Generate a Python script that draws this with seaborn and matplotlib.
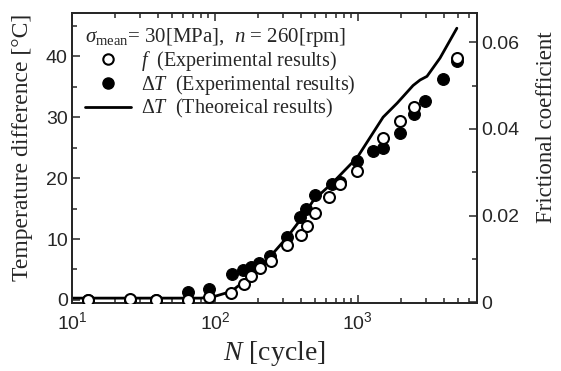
# Temperature difference and friction coefficient vs. number of cycles
import numpy as np
import pandas as pd
import matplotlib.pyplot as plt
import seaborn as sns
from matplotlib.lines import Line2D
from matplotlib.ticker import LogLocator, MultipleLocator, NullFormatter, FixedLocator

# measured temperature difference (filled circles, left axis)
cycles_dt = [13, 25.5, 38.5, 65, 91, 131, 156, 180, 203, 242, 320, 393, 433, 500,
             660, 749, 989, 1280, 1486, 1965, 2478, 2960, 3950, 4900]
dt_exp = [0.0, 0.0, 0.0, 1.3, 1.8, 4.2, 4.9, 5.4, 6.0, 7.2, 10.4, 13.6, 14.9, 17.2,
          19.0, 19.4, 22.8, 24.5, 25.0, 27.4, 30.5, 32.7, 36.3, 39.3]

# measured friction coefficient (open circles, right axis)
cycles_f = [13, 25.5, 38.5, 65, 91, 130, 160, 180, 205, 245, 318, 400, 440, 500,
            630, 750, 990, 1490, 1965, 2480, 4900]
f_exp = [0.0005, 0.0008, 0.0004, 0.0004, 0.0013, 0.0020, 0.0043, 0.0060, 0.0078,
         0.0095, 0.0131, 0.0154, 0.0177, 0.0206, 0.0243, 0.0273, 0.0303, 0.0380,
         0.0418, 0.0450, 0.0565]

# theoretical temperature difference (solid line, left axis)
cycles_th = [10, 50, 80, 100, 130, 155, 180, 205, 245, 320, 400, 490, 670, 990,
             1500, 1880, 2430, 2720, 3040, 3750, 4920]
dt_th = [0.3, 0.3, 0.3, 0.6, 1.4, 2.8, 4.0, 5.3, 7.2, 10.3, 13.3, 16.4, 19.3, 23.4,
         30.0, 32.3, 35.2, 36.1, 36.7, 39.7, 44.6]

sns.set_style("ticks")
plt.rcParams['font.family'] = ['Liberation Sans', 'DejaVu Sans']
plt.rcParams['mathtext.fontset'] = 'custom'
plt.rcParams['mathtext.rm'] = 'Liberation Serif'
plt.rcParams['mathtext.it'] = 'Liberation Serif:italic'
plt.rcParams['mathtext.sf'] = 'Liberation Sans'

df_dt = pd.DataFrame({'N': cycles_dt, 'dT': dt_exp})
df_f = pd.DataFrame({'N': cycles_f, 'f': f_exp})
df_th = pd.DataFrame({'N': cycles_th, 'dT': dt_th})

fig = plt.figure(figsize=(5.61, 3.71), dpi=100)
ax = fig.add_axes([0.1283, 0.1833, 0.7219, 0.7817])
ax.set_xscale('log')
ax2 = ax.twinx()

sns.lineplot(data=df_th, x='N', y='dT', ax=ax, color='black', linewidth=2.0, zorder=2)
sns.scatterplot(data=df_dt, x='N', y='dT', ax=ax, color='black', s=72,
                edgecolor='black', linewidth=0.8, zorder=3)
sns.scatterplot(data=df_f, x='N', y='f', ax=ax2, facecolor='white', s=62,
                edgecolor='black', linewidth=1.5, zorder=3)

ax.set_xlim(10, 6800)
ax.set_ylim(-0.5, 47.1)
ax2.set_ylim(-0.0002, 0.0668)

serif = 'Liberation Serif'
ax.set_xlabel(r'$N$ [cycle]', family=serif, fontsize=20, labelpad=4)
ax.set_ylabel('Temperature difference [°C]', family=serif, fontsize=17)
ax2.set_ylabel('Frictional coefficient', family=serif, fontsize=16.5)
ax.yaxis.set_label_coords(-0.097, 0.536)
ax2.yaxis.set_label_coords(1.145, 0.607)

ax.xaxis.set_major_locator(LogLocator(base=10))
ax.xaxis.set_minor_locator(LogLocator(base=10, subs=np.arange(2, 10)))
ax.xaxis.set_minor_formatter(NullFormatter())
ax.yaxis.set_major_locator(FixedLocator([0, 10, 20, 30, 40]))
ax.yaxis.set_minor_locator(MultipleLocator(5))
ax2.yaxis.set_major_locator(FixedLocator([0, 0.02, 0.04, 0.06]))
ax2.yaxis.set_minor_locator(MultipleLocator(0.01))
ax2.set_yticklabels(['0', '0.02', '0.04', '0.06'])

for a in (ax, ax2):
    a.tick_params(which='both', direction='in', top=True, labelsize=14, pad=3, width=1.1)
    a.tick_params(which='major', length=6)
    a.tick_params(which='minor', length=3.5)
    for sp in a.spines.values():
        sp.set_linewidth(1.3)
ax.tick_params(axis='y', right=False)
ax.tick_params(axis='x', pad=6)

handles = [
    Line2D([], [], marker='o', linestyle='none', markerfacecolor='white',
           markeredgecolor='black', markeredgewidth=1.5, markersize=7.5),
    Line2D([], [], marker='o', linestyle='none', color='black', markersize=8),
    Line2D([], [], color='black', linewidth=2.0),
]
labels = [r'$f$  (Experimental results)',
          r'$\mathit{ΔT}$  (Experimental results)',
          r'$\mathit{ΔT}$  (Theoreical results)']
leg = ax2.legend(handles, labels, loc='upper left', frameon=False,
                 prop={'family': serif, 'size': 14.5},
                 title=r'$\sigma_{\rm mean}$= 30[MPa],  $n$ = 260[rpm]',
                 title_fontproperties={'family': serif, 'size': 15},
                 handlelength=2.3, handletextpad=0.5, labelspacing=0.0,
                 borderaxespad=0.4, borderpad=0.25)
leg._legend_box.align = 'left'

fig.savefig('out.png', dpi=100)
